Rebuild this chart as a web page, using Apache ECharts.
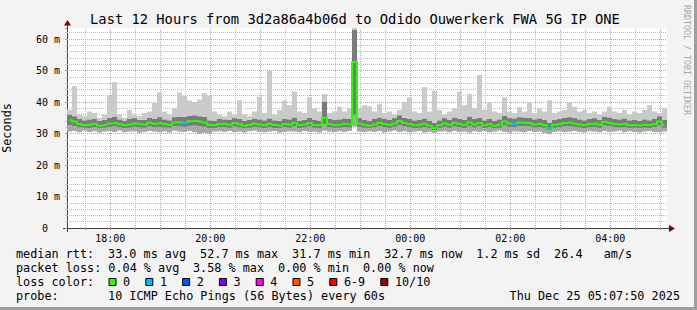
<!DOCTYPE html>
<html><head><meta charset="utf-8">
<script src="https://cdn.jsdelivr.net/npm/echarts@6/dist/echarts.min.js"></script>
<style>html,body{margin:0;padding:0;background:#f3f3f3;overflow:hidden}#c{width:697px;height:310px}</style>
</head><body><div id="c"></div>
<script>
// ---------- data ----------
const titleText = 'Last 12 Hours from 3d2a86a4b06d to Odido Ouwerkerk FWA 5G IP ONE';
const startHour = 17, startMinute = 8;      // left edge of the plot
const spanMinutes = 720;                     // 12 hours
const stepMinutes = 6;                       // one smoke column per step
const xTickLabels = ['18:00', '20:00', '22:00', '00:00', '02:00', '04:00'];
const yAxisMax = 63.5;                       // ms
const yAxisStep = 10;                        // ms

// ping statistics per step (ms)
const pingMin = [
  30.6,30.8,30.4,30.9,30.5,30.7,30.3,30.6,30.8,30.5,
  30.9,30.4,30.6,30.7,30.2,30.5,30.8,30.6,30.4,30.7,
  30.3,30.9,30.6,30.5,30.8,30.4,29.9,30.2,30.0,30.6,
  30.7,30.5,30.8,30.4,30.6,30.3,30.7,30.9,30.5,30.4,
  30.6,30.8,30.3,30.5,30.7,30.6,30.4,30.8,30.5,30.6,
  30.3,30.9,30.6,30.4,30.7,30.5,30.8,32.2,30.6,30.4,
  30.7,30.5,30.8,30.3,30.6,30.9,30.5,30.7,30.4,30.6,
  30.8,30.3,30.5,30.2,30.6,30.7,30.4,30.8,30.5,30.6,
  30.3,30.7,30.5,30.8,30.4,30.6,30.9,30.5,30.3,30.7,
  30.6,30.4,30.8,30.5,30.6,30.2,29.8,30.5,30.7,30.4,
  30.6,30.8,30.5,30.3,30.7,30.6,30.4,30.8,30.5,30.6,
  30.9,30.4,30.7,30.5,30.3,30.6,30.8,30.5,30.4,30.6
];
const pingLowQuart = [
  32.6,32.4,31.9,31.8,31.7,32.0,31.6,31.8,32.1,32.2,
  31.9,31.7,31.8,32.1,31.9,31.8,32.2,32.0,32.1,31.9,
  31.8,32.3,32.2,32.1,32.4,32.5,32.3,32.1,31.6,31.7,
  32.0,32.0,31.8,32.2,31.9,31.6,31.8,32.1,31.9,31.7,
  32.0,31.7,31.6,32.0,31.8,32.2,31.7,31.9,32.2,31.8,
  31.7,33.0,32.0,31.8,31.8,32.0,31.9,36.0,32.1,31.8,
  31.6,31.9,32.3,32.0,31.8,32.1,32.6,32.2,32.0,31.7,
  31.8,32.0,31.6,31.0,31.7,32.1,31.8,32.2,32.0,31.7,
  32.4,31.9,32.2,31.7,32.0,31.6,31.8,32.5,32.1,32.0,
  32.3,32.3,32.2,31.9,32.0,31.8,31.0,31.8,32.0,32.2,
  32.3,32.1,31.9,31.7,32.0,32.1,31.8,32.5,32.3,32.0,
  31.9,32.0,31.7,31.8,31.6,31.8,31.7,32.0,32.5,31.8
];
const medianRtt = [
  34.3,33.8,33.0,32.6,32.8,33.1,32.5,32.7,33.2,33.3,
  33.0,32.6,32.9,33.2,33.0,32.8,33.4,33.1,33.3,33.0,
  32.7,33.5,33.6,33.4,33.9,34.0,33.8,33.5,32.7,32.6,
  33.0,33.1,32.8,33.3,33.0,32.5,32.8,33.2,32.9,32.6,
  33.1,32.7,32.5,33.0,32.8,33.4,32.6,32.9,33.3,32.7,
  32.6,35.0,33.0,32.7,32.8,33.1,32.9,52.7,33.2,32.8,
  32.5,32.9,33.4,33.0,32.7,33.2,34.0,33.3,33.0,32.6,
  32.8,33.1,32.5,31.7,32.6,33.2,32.8,33.4,33.0,32.7,
  33.6,32.9,33.3,32.6,33.0,32.5,32.8,33.8,33.2,33.0,
  33.5,33.4,33.3,32.9,33.1,32.7,31.7,32.8,33.0,33.3,
  33.5,33.2,32.9,32.6,33.0,33.2,32.8,33.7,33.4,33.0,
  32.9,33.1,32.6,32.7,32.5,32.8,32.6,33.0,33.8,32.7
];
const pingHighQuart = [
  36.0,35.5,34.6,34.2,34.5,34.6,34.0,34.3,35.0,35.4,
  34.5,34.1,34.6,34.9,34.4,34.3,35.0,34.7,35.2,34.5,
  34.2,35.2,35.4,35.3,35.6,35.8,35.5,35.3,34.2,34.1,
  34.6,34.5,34.3,34.9,34.7,34.0,34.4,34.8,34.5,34.2,
  34.8,34.2,34.0,34.6,34.5,35.1,34.1,34.4,35.0,34.3,
  34.1,40.0,34.6,34.3,34.5,34.8,34.6,63.0,34.9,34.4,
  34.1,34.6,35.1,34.6,34.3,34.9,35.8,35.0,34.7,34.2,
  34.4,34.8,34.1,33.4,34.2,34.9,34.4,35.1,34.7,34.4,
  35.4,34.6,35.0,34.2,34.7,34.1,34.5,35.6,34.9,34.8,
  35.2,35.1,35.0,34.5,34.8,34.3,33.5,34.4,34.6,35.0,
  35.2,34.9,34.5,34.2,34.7,34.9,34.4,35.4,35.1,34.7,
  34.5,34.8,34.2,34.3,34.1,34.5,34.2,34.6,35.5,34.3
];
const pingMax = [
  37.5,45.0,36.0,35.5,37.0,36.5,35.0,36.0,42.0,46.3,
  36.0,35.0,37.5,36.0,35.5,36.5,37.0,39.7,43.0,37.0,
  36.0,38.0,43.0,42.0,40.5,40.0,40.8,42.8,42.0,37.0,
  36.0,35.5,37.0,36.0,40.6,36.0,35.5,37.0,41.7,36.5,
  50.0,36.0,37.5,40.5,39.0,43.3,37.0,36.5,41.5,38.0,
  37.0,42.5,36.5,37.0,38.5,37.0,38.0,63.5,38.0,39.0,
  38.7,37.0,39.3,36.5,37.0,36.0,37.5,40.0,41.4,37.0,
  36.5,44.7,37.0,43.6,37.5,36.0,37.0,38.0,43.3,39.0,
  42.6,38.0,48.6,37.5,40.0,37.0,36.5,41.5,37.0,36.5,
  38.4,37.0,40.0,36.5,38.0,37.0,40.6,36.5,37.0,37.5,
  39.9,38.5,37.0,37.5,36.5,37.0,36.0,37.0,38.5,37.0,
  36.5,37.5,36.0,37.0,36.5,37.5,39.0,37.0,36.5,38.0
];
// lost pings per step (out of 10)
const lossCount = [
  0,0,0,0,0,0,0,0,0,0, 0,0,0,0,0,0,0,0,0,0,
  0,0,0,1,0,0,0,0,0,0, 0,0,0,0,0,0,0,0,0,0,
  0,0,0,0,0,0,0,0,0,0, 0,0,0,0,0,0,0,0,0,0,
  0,0,0,0,0,0,0,0,0,0, 0,0,0,0,0,0,0,0,0,0,
  0,0,0,0,0,0,0,0,0,1, 0,0,0,0,0,0,1,0,0,0,
  0,0,0,0,0,0,0,0,0,0, 0,0,0,0,0,0,0,0,0,0
];
const lossLabels = ['0', '1', '2', '3', '4', '5', '6-9', '10/10'];
const lossColors = ['#26ff00', '#00b8ff', '#0059ff', '#7e00ff', '#ff00ff', '#ff5500', '#ff0000', '#a10000'];

const legendLines = [
  'median rtt:  33.0 ms avg  52.7 ms max  31.7 ms min  32.7 ms now  1.2 ms sd  26.4   am/s',
  'packet loss: 0.04 % avg  3.58 % max  0.00 % min  0.00 % now'
];
const lossLegendTitle = 'loss color:';
const probeLine = 'probe:       10 ICMP Echo Pings (56 Bytes) every 60s';
const dateText = 'Thu Dec 25 05:07:50 2025';
const creditText = 'RRDTOOL / TOBI OETIKER';

// ---------- build ----------
const MONO = '"DejaVu Sans Mono", "Liberation Mono", monospace';
const GREY = '#bcbcbc', RED = '#ec8f8f', AXIS = '#404040';
const pad = n => (n < 10 ? '0' : '') + n;
const cats = [];
for (let k = 0; k <= spanMinutes; k++) {
  const m = (startHour * 60 + startMinute + k) % 1440;
  cats.push(pad(Math.floor(m / 60)) + ':' + pad(m % 60));
}
const hourCats = cats.filter(c => c.endsWith(':00'));
const halfHourCats = cats.filter(c => c.endsWith(':30'));
const xOf = i => i * stepMinutes + stepMinutes / 2;
const r = v => Math.round(v * 100) / 100;
const base = pingMin.map((v, i) => [xOf(i), v]);
const lowBand = pingLowQuart.map((v, i) => [xOf(i), r(v - pingMin[i])]);
const coreBand = pingHighQuart.map((v, i) => [xOf(i), r(v - pingLowQuart[i])]);
const highBand = pingMax.map((v, i) => [xOf(i), r(v - pingHighQuart[i])]);
const medLine = medianRtt.map((v, i) => [xOf(i), v]);
const lossPts = [];
lossCount.forEach((c, i) => {
  if (c > 0) {
    const ci = c >= 10 ? 7 : c >= 6 ? 6 : c;
    lossPts.push({ value: [xOf(i), medianRtt[i]], itemStyle: { color: lossColors[ci] } });
  }
});

const barCommon = { type: 'bar', stack: 'smoke', barWidth: 5, xAxisIndex: 0, silent: true };

const gridLines = [].concat(
  halfHourCats.map(c => ({ xAxis: c, lineStyle: { color: GREY, width: 1, type: [1, 1] } })),
  hourCats.map(c => ({ xAxis: c, lineStyle: { color: RED, width: 1, type: [1, 1] } }))
);

const graphic = [];
graphic.push({ type: 'rect', shape: { x: 694, y: 0, width: 3, height: 310 }, style: { fill: '#9e9e9e' }, silent: true });
graphic.push({ type: 'rect', shape: { x: 0, y: 307, width: 697, height: 3 }, style: { fill: '#9e9e9e' }, silent: true });
graphic.push({ type: 'text', x: 355, y: 19, style: { text: titleText, font: '13.75px ' + MONO, fill: '#000', textAlign: 'center', textVerticalAlign: 'middle' } });
graphic.push({ type: 'text', x: 687, y: 60, rotation: -Math.PI / 2, style: { text: creditText, font: '8.3px ' + MONO, fill: '#a8a8a8', textAlign: 'center', textVerticalAlign: 'middle' } });
// axis extensions + arrows
graphic.push({ type: 'line', shape: { x1: 67.5, y1: 232, x2: 67.5, y2: 24 }, style: { stroke: AXIS, lineWidth: 1 } });
graphic.push({ type: 'polygon', shape: { points: [[64, 25.5], [71, 25.5], [67.5, 20]] }, style: { fill: '#7f0000' } });
graphic.push({ type: 'line', shape: { x1: 63, y1: 228.5, x2: 670, y2: 228.5 }, style: { stroke: AXIS, lineWidth: 1 } });
graphic.push({ type: 'polygon', shape: { points: [[669, 225], [669, 232], [675, 228.5]] }, style: { fill: '#7f0000' } });

const CW = 7.08, LX = 16, FONT = '11.8px ' + MONO;
function addLine(str, y) {
  const re = /\S+(?: \S+)*/g; let m;
  while ((m = re.exec(str)) !== null) {
    graphic.push({ type: 'text', x: LX + m.index * CW, y: y, style: { text: m[0], font: FONT, fill: '#000', textVerticalAlign: 'middle' } });
  }
}
addLine(legendLines[0], 254.3);
addLine(legendLines[1], 268.3);
addLine(lossLegendTitle, 282.3);
addLine(probeLine, 296);
graphic.push({ type: 'text', x: 680, y: 296, style: { text: dateText, font: FONT, fill: '#000', textAlign: 'right', textVerticalAlign: 'middle' } });
let bx = 108.5;
lossLabels.forEach((lab, k) => {
  graphic.push({ type: 'rect', shape: { x: bx + 0.5, y: 278.5, width: 7, height: 7 }, style: { fill: lossColors[k], stroke: '#000', lineWidth: 1 } });
  graphic.push({ type: 'text', x: bx + 14.6, y: 282.3, style: { text: lab, font: FONT, fill: '#000', textVerticalAlign: 'middle' } });
  bx += 29.7 + lab.length * 7.1;
});

const option = {
  animation: false,
  backgroundColor: '#f3f3f3',
  grid: { left: 67, right: 30, top: 28, bottom: 82, show: true, backgroundColor: '#ffffff', borderWidth: 0,
          containLabel: false, outerBoundsMode: 'none' },
  xAxis: {
    type: 'category', data: cats, boundaryGap: false,
    axisLine: { show: false },
    axisTick: { show: true, interval: (i, v) => v.endsWith(':00') || v.endsWith(':30'), length: 2, lineStyle: { color: '#d08080' } },
    axisLabel: { interval: (i, v) => xTickLabels.includes(v), color: '#000', fontFamily: MONO, fontSize: 10, margin: 5 },
    splitLine: { show: false }
  },
  yAxis: {
    type: 'value', min: 0, max: yAxisMax, interval: yAxisStep,
    name: 'Seconds', nameLocation: 'middle', nameGap: 54, nameRotate: 90,
    nameTextStyle: { color: '#000', fontFamily: MONO, fontSize: 11.8 },
    axisLine: { show: false },
    axisTick: { show: true, length: 2, lineStyle: { color: '#d08080' } },
    minorTick: { show: true, splitNumber: 5, length: 2, lineStyle: { color: '#c4c4c4' } },
    axisLabel: {
      formatter: v => (v === 0 ? '{z|0}' : v + ' m'), showMaxLabel: false, color: '#000',
      fontFamily: MONO, fontSize: 10, margin: 7,
      rich: { z: { fontFamily: MONO, fontSize: 10, color: '#000', padding: [0, 12, 0, 0] } }
    },
    splitLine: { show: true, showMaxLine: false, showMinLine: false, lineStyle: { color: RED, width: 1, type: [1, 1] } },
    minorSplitLine: { show: true, lineStyle: { color: GREY, width: 1, type: [1, 1] } }
  },
  series: [
    Object.assign({ name: 'base', data: base, itemStyle: { color: 'rgba(0,0,0,0)' },
      markLine: { silent: true, symbol: ['none', 'none'], label: { show: false }, animation: false, z: 1, data: gridLines } }, barCommon),
    Object.assign({ name: 'low', data: lowBand, itemStyle: { color: '#a8a8a8' } }, barCommon),
    Object.assign({ name: 'core', data: coreBand, itemStyle: { color: '#7a7a7a' } }, barCommon),
    Object.assign({ name: 'high', data: highBand, itemStyle: { color: '#cacaca' } }, barCommon),
    { name: 'median', type: 'line', data: medLine, step: 'middle', showSymbol: false, symbol: 'none', silent: true,
      lineStyle: { color: lossColors[0], width: 2 }, z: 5 },
    { name: 'loss', type: 'scatter', data: lossPts, symbol: 'rect', symbolSize: [5, 3], silent: true, z: 6 }
  ],
  graphic: graphic
};
const chart = echarts.init(document.getElementById('c'), null, { renderer: 'svg' });
chart.setOption(option);
</script></body></html>
